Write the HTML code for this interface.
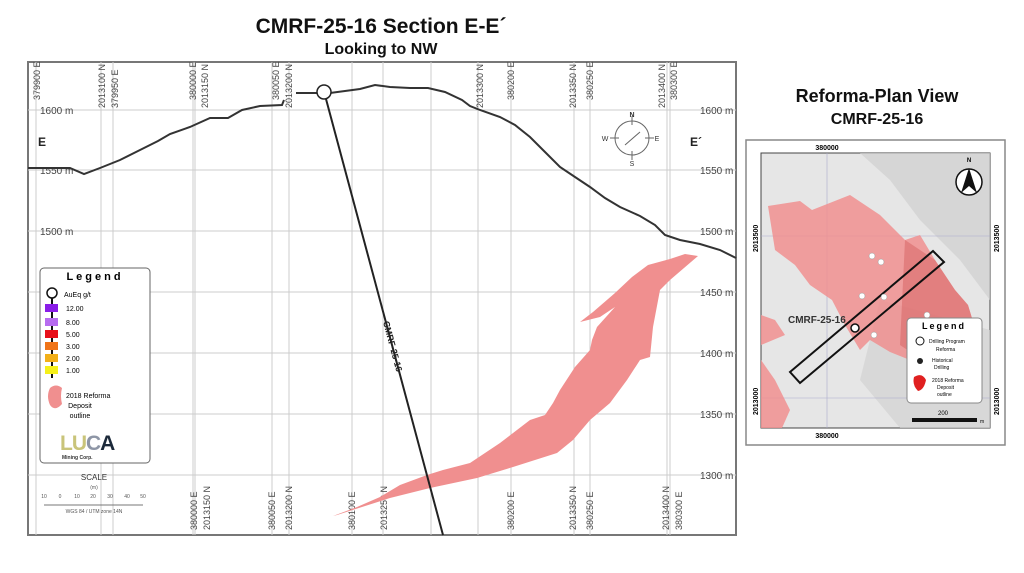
<!DOCTYPE html>
<html><head><meta charset="utf-8"><style>
html,body{margin:0;padding:0;background:#fff;}
svg{display:block;font-family:"Liberation Sans",sans-serif;}
</style></head><body>
<svg width="1024" height="573" viewBox="0 0 1024 573" xmlns="http://www.w3.org/2000/svg">
<rect width="1024" height="573" fill="#fff"/>
<text x="381" y="33" text-anchor="middle" font-size="21" font-weight="bold" fill="#111">CMRF-25-16  Section E-E´</text>
<text x="381" y="54" text-anchor="middle" font-size="16" font-weight="bold" fill="#111">Looking to NW</text>

<!-- section frame -->
<rect x="28" y="62" width="708" height="473" fill="#fff" stroke="#777" stroke-width="2"/>
<g stroke="#ccc" stroke-width="1">
<line x1="36" y1="62" x2="36" y2="535"/><line x1="113" y1="62" x2="113" y2="535"/>
<line x1="193" y1="62" x2="193" y2="535"/><line x1="272" y1="62" x2="272" y2="535"/>
<line x1="352" y1="62" x2="352" y2="535"/><line x1="431" y1="62" x2="431" y2="535"/>
<line x1="511" y1="62" x2="511" y2="535"/><line x1="590" y1="62" x2="590" y2="535"/>
<line x1="670" y1="62" x2="670" y2="535"/>
<line x1="101" y1="62" x2="101" y2="535"/><line x1="195" y1="62" x2="195" y2="535"/>
<line x1="289" y1="62" x2="289" y2="535"/><line x1="383" y1="62" x2="383" y2="535"/>
<line x1="478" y1="62" x2="478" y2="535"/><line x1="574" y1="62" x2="574" y2="535"/>
<line x1="667" y1="62" x2="667" y2="535"/>
<line x1="28" y1="110" x2="736" y2="110"/><line x1="28" y1="170" x2="736" y2="170"/>
<line x1="28" y1="231" x2="736" y2="231"/><line x1="28" y1="292" x2="736" y2="292"/>
<line x1="28" y1="353" x2="736" y2="353"/><line x1="28" y1="414" x2="736" y2="414"/>
<line x1="28" y1="475" x2="736" y2="475"/>
</g>
<g font-size="10" fill="#444">
<text x="40" y="114">1600 m</text><text x="40" y="174">1550 m</text><text x="40" y="235">1500 m</text>
<text x="700" y="114">1600 m</text><text x="700" y="174">1550 m</text><text x="700" y="235">1500 m</text>
<text x="700" y="296">1450 m</text><text x="700" y="357">1400 m</text><text x="700" y="418">1350 m</text><text x="700" y="479">1300 m</text>
</g>
<text x="38" y="146" font-size="12" font-weight="bold" fill="#222">E</text>
<text x="690" y="146" font-size="12" font-weight="bold" fill="#222">E´</text>
<!-- top labels -->
<g font-size="9" fill="#444">
<text transform="translate(40,100) rotate(-90)">379900 E</text>
<text transform="translate(105,108) rotate(-90)">2013100 N</text>
<text transform="translate(118,108) rotate(-90)">379950 E</text>
<text transform="translate(196,100) rotate(-90)">380000 E</text>
<text transform="translate(208,108) rotate(-90)">2013150 N</text>
<text transform="translate(279,100) rotate(-90)">380050 E</text>
<text transform="translate(292,108) rotate(-90)">2013200 N</text>
<text transform="translate(483,108) rotate(-90)">2013300 N</text>
<text transform="translate(514,100) rotate(-90)">380200 E</text>
<text transform="translate(576,108) rotate(-90)">2013350 N</text>
<text transform="translate(593,100) rotate(-90)">380250 E</text>
<text transform="translate(665,108) rotate(-90)">2013400 N</text>
<text transform="translate(677,100) rotate(-90)">380300 E</text>
<text transform="translate(197,530) rotate(-90)">380000 E</text>
<text transform="translate(210,530) rotate(-90)">2013150 N</text>
<text transform="translate(275,530) rotate(-90)">380050 E</text>
<text transform="translate(292,530) rotate(-90)">2013200 N</text>
<text transform="translate(355,530) rotate(-90)">380100 E</text>
<text transform="translate(387,530) rotate(-90)">2013250 N</text>
<text transform="translate(514,530) rotate(-90)">380200 E</text>
<text transform="translate(576,530) rotate(-90)">2013350 N</text>
<text transform="translate(593,530) rotate(-90)">380250 E</text>
<text transform="translate(669,530) rotate(-90)">2013400 N</text>
<text transform="translate(682,530) rotate(-90)">380300 E</text>
</g>
<!-- deposit -->
<path fill="#f08f8f" d="M698,256 L685,254 L670,259 L648,265 L632,277 L615,293 L593,312 L580,322 L600,317 L615,307 L597,327 L592,340 L590,350 L575,367 L560,390 L553,403 L545,415 L530,420 L500,443 L470,463 L443,470 L427,475 L400,485 L380,497 L357,507 L333,516 L337,515 L390,498 L430,488 L477,478 L513,467 L557,453 L573,440 L590,420 L610,403 L627,380 L640,360 L650,357 L653,327 L660,290 L670,280 Z"/>
<!-- topography -->
<polyline fill="none" stroke="#333" stroke-width="2" points="28,168 70,168 84,174 100,168 120,160 140,150 158,141 170,134 190,127 210,118 228,118 242,110 260,106 282,105 284,100"/>
<polyline fill="none" stroke="#333" stroke-width="2" points="296,93 316,93 330,93 345,91 360,89 375,85 390,87 410,88 428,88 445,92 462,100 470,106 480,110 500,117 515,125 530,137 545,152 560,167 575,177 590,187 605,198 620,207 640,216 655,225 665,235 680,240 700,244 720,250 736,258"/>
<!-- drill hole -->
<line x1="326" y1="99" x2="443" y2="535" stroke="#222" stroke-width="2"/>
<circle cx="324" cy="92" r="7" fill="#fff" stroke="#222" stroke-width="1.5"/>
<text transform="translate(383,322) rotate(75)" font-size="9" font-weight="bold" fill="#222">CMRF-25-16</text>
<!-- compass -->
<g stroke="#666" fill="none" stroke-width="1">
<circle cx="632" cy="138" r="17"/>
<line x1="632" y1="116" x2="632" y2="125"/><line x1="632" y1="151" x2="632" y2="160"/>
<line x1="610" y1="138" x2="619" y2="138"/><line x1="645" y1="138" x2="654" y2="138"/>
<line x1="625" y1="145" x2="640" y2="132"/>
</g>
<g font-size="7" fill="#333" text-anchor="middle"><text x="632" y="117" font-weight="bold">N</text><text x="632" y="166">S</text><text x="605" y="141">W</text><text x="657" y="141">E</text></g>

<!-- legend -->
<rect x="40" y="268" width="110" height="195" rx="4" fill="#fff" stroke="#666"/>
<text x="95" y="280" text-anchor="middle" font-size="11" font-weight="bold" letter-spacing="3">Legend</text>
<circle cx="52" cy="293" r="5" fill="#fff" stroke="#111" stroke-width="1.5"/>
<line x1="52" y1="298" x2="52" y2="378" stroke="#111" stroke-width="2"/>
<text x="64" y="297" font-size="7">AuEq g/t</text>
<rect x="45" y="304" width="13" height="8" fill="#8a1ee8"/><text x="66" y="311" font-size="7">12.00</text>
<rect x="45" y="318" width="13" height="8" fill="#b76cf0"/><text x="66" y="325" font-size="7">8.00</text>
<rect x="45" y="330" width="13" height="8" fill="#e8101a"/><text x="66" y="337" font-size="7">5.00</text>
<rect x="45" y="342" width="13" height="8" fill="#f07418"/><text x="66" y="349" font-size="7">3.00</text>
<rect x="45" y="354" width="13" height="8" fill="#f2b01a"/><text x="66" y="361" font-size="7">2.00</text>
<rect x="45" y="366" width="13" height="8" fill="#f5f01a"/><text x="66" y="373" font-size="7">1.00</text>
<path d="M50,388 Q56,383 62,388 Q60,396 62,404 Q55,412 50,405 Q46,396 50,388 Z" fill="#f08f8f"/>
<text x="66" y="398" font-size="7">2018 Reforma</text><text x="80" y="408" font-size="7" text-anchor="middle">Deposit</text><text x="80" y="418" font-size="7" text-anchor="middle">outline</text>
<text x="60" y="450" font-size="21" font-weight="bold" fill="#c9c47a" letter-spacing="-1">LU<tspan fill="#8e96a6">C</tspan><tspan fill="#1c2a3a">A</tspan></text>
<text x="62" y="459" font-size="5" font-weight="bold" fill="#333">Mining Corp.</text>
<text x="94" y="480" font-size="8" text-anchor="middle" fill="#333">SCALE</text>
<text x="94" y="489" font-size="5" text-anchor="middle" fill="#555">(m)</text>
<g font-size="5" fill="#555" text-anchor="middle"><text x="44" y="498">10</text><text x="60" y="498">0</text><text x="77" y="498">10</text><text x="93" y="498">20</text><text x="110" y="498">30</text><text x="127" y="498">40</text><text x="143" y="498">50</text></g>
<line x1="44" y1="505" x2="143" y2="505" stroke="#777"/>
<text x="94" y="513" font-size="5" text-anchor="middle" fill="#555">WGS 84 / UTM zone 14N</text>

<!-- right plan view -->
<text x="877" y="102" text-anchor="middle" font-size="18" font-weight="bold" fill="#111">Reforma-Plan View</text>
<text x="877" y="124" text-anchor="middle" font-size="16" font-weight="bold" fill="#111">CMRF-25-16</text>
<rect x="746" y="140" width="259" height="305" fill="#fff" stroke="#888" stroke-width="1.5"/>
<rect x="761" y="153" width="229" height="275" fill="#e6e6e6" stroke="#444"/>
<path d="M860,153 L990,153 L990,300 L960,260 L920,220 L890,180 Z" fill="#cfcfcf" opacity="0.7"/>
<path d="M880,300 L990,330 L990,428 L900,428 L860,380 Z" fill="#d2d2d2" opacity="0.7"/>
<line x1="827" y1="153" x2="827" y2="428" stroke="#aac" stroke-width="0.6"/>
<line x1="761" y1="236" x2="990" y2="236" stroke="#aac" stroke-width="0.6"/>
<line x1="761" y1="398" x2="990" y2="398" stroke="#aac" stroke-width="0.6"/>
<path d="M768,206 L800,201 L812,210 L850,195 L880,215 L905,240 L920,235 L935,260 L955,290 L968,305 L978,338 L960,360 L940,372 L890,352 L870,340 L860,350 L845,325 L832,300 L810,285 L795,265 L775,250 Z" fill="#f08f8f" opacity="0.85"/>
<path d="M905,240 L935,260 L955,290 L968,305 L978,338 L960,360 L940,372 L900,345 Z" fill="#d96a6a" opacity="0.6"/>
<path d="M761,315 L775,320 L785,335 L761,345 Z" fill="#f08f8f" opacity="0.85"/>
<path d="M761,360 L775,380 L790,410 L782,428 L761,428 Z" fill="#f08f8f" opacity="0.85"/>
<polygon points="790,372 933,251 944,262 800,383" fill="none" stroke="#111" stroke-width="2"/>
<g fill="#fff" stroke="#999" stroke-width="0.5"><circle cx="872" cy="256" r="3"/><circle cx="881" cy="262" r="3"/><circle cx="862" cy="296" r="3"/><circle cx="884" cy="297" r="3"/><circle cx="927" cy="315" r="3"/><circle cx="874" cy="335" r="3"/></g>
<circle cx="855" cy="328" r="4" fill="#fff" stroke="#111" stroke-width="1.5"/>
<text x="788" y="323" font-size="10" font-weight="bold" fill="#333">CMRF-25-16</text>
<circle cx="969" cy="182" r="13" fill="#fff" stroke="#111" stroke-width="1.5"/>
<path d="M969,168 L961,193 L969,186 L977,193 Z" fill="#111"/>
<text x="969" y="162" font-size="6" text-anchor="middle" font-weight="bold">N</text>
<rect x="907" y="318" width="75" height="85" rx="4" fill="#fff" stroke="#888"/>
<text x="944" y="329" text-anchor="middle" font-size="9" font-weight="bold" letter-spacing="2">Legend</text>
<circle cx="920" cy="341" r="4" fill="#fff" stroke="#111"/><text x="929" y="343" font-size="5">Drilling Program</text><text x="936" y="351" font-size="5">Reforma</text>
<circle cx="920" cy="361" r="3" fill="#222"/><text x="932" y="362" font-size="5">Historical</text><text x="934" y="369" font-size="5">Drilling</text>
<path d="M914,377 Q922,372 926,380 Q924,390 918,391 Q912,385 914,377 Z" fill="#e02020"/>
<text x="932" y="382" font-size="5">2018 Reforma</text><text x="937" y="389" font-size="5">Deposit</text><text x="937" y="396" font-size="5">outline</text>
<text x="943" y="415" font-size="6" text-anchor="middle">200</text>
<rect x="912" y="418" width="65" height="4" fill="#111"/><text x="980" y="423" font-size="5">m</text>
<text x="827" y="150" font-size="7" text-anchor="middle" font-weight="bold">380000</text>
<text x="827" y="438" font-size="7" text-anchor="middle" font-weight="bold">380000</text>
<text transform="translate(758,252) rotate(-90)" font-size="7" font-weight="bold">2013500</text>
<text transform="translate(999,252) rotate(-90)" font-size="7" font-weight="bold">2013500</text>
<text transform="translate(758,415) rotate(-90)" font-size="7" font-weight="bold">2013000</text>
<text transform="translate(999,415) rotate(-90)" font-size="7" font-weight="bold">2013000</text>
</svg>
</body></html>
